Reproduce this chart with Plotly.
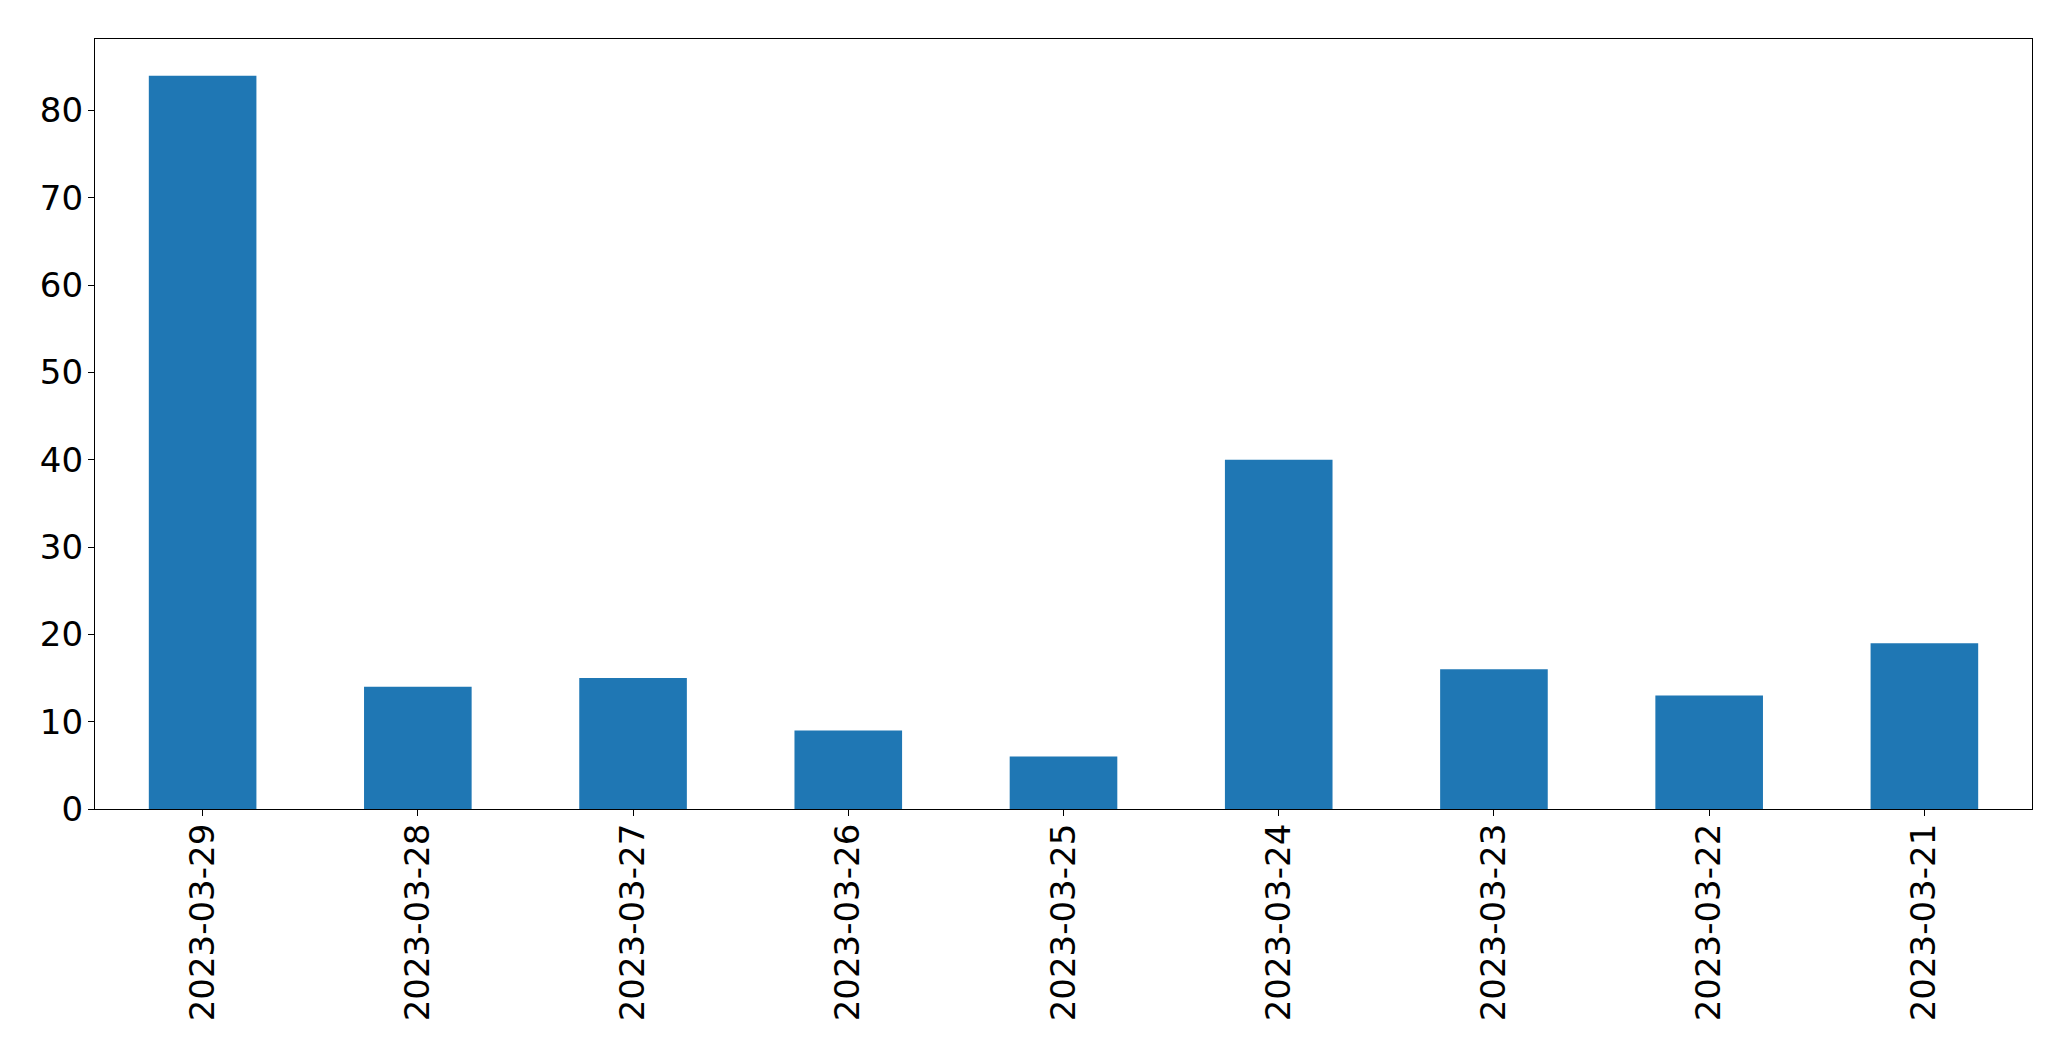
import plotly.graph_objects as go

dates = ["2023-03-29", "2023-03-28", "2023-03-27", "2023-03-26", "2023-03-25",
         "2023-03-24", "2023-03-23", "2023-03-22", "2023-03-21"]
counts = [84, 14, 15, 9, 6, 40, 16, 13, 19]
y_ticks = [0, 10, 20, 30, 40, 50, 60, 70, 80]

fig = go.Figure(go.Bar(
    x=dates,
    y=counts,
    width=0.5,
    marker=dict(color="#1f77b4", line=dict(width=0)),
))

# page body adds 8px, so the figure is a bit smaller than the window
fig.update_layout(
    width=2055,
    height=1045,
    margin=dict(l=87, r=31, t=31, b=244),
    plot_bgcolor="white",
    paper_bgcolor="white",
    font=dict(family="DejaVu Sans", size=34, color="black"),
    showlegend=False,
)

fig.update_xaxes(
    type="category",
    range=[-0.5, 8.5],
    tickangle=-90,
    ticks="outside",
    ticklen=6,
    tickwidth=1.3,
    tickcolor="black",
    showline=True,
    linecolor="black",
    linewidth=1.3,
    mirror=True,
    showgrid=False,
    ticklabelstandoff=-6,
)

fig.update_yaxes(
    range=[0, 88.2],
    tickvals=y_ticks,
    ticks="outside",
    ticklen=6,
    tickwidth=1.3,
    tickcolor="black",
    showline=True,
    linecolor="black",
    linewidth=1.3,
    mirror=True,
    showgrid=False,
    zeroline=False,
    ticklabelstandoff=-2,
)

fig.write_html("out.html")
